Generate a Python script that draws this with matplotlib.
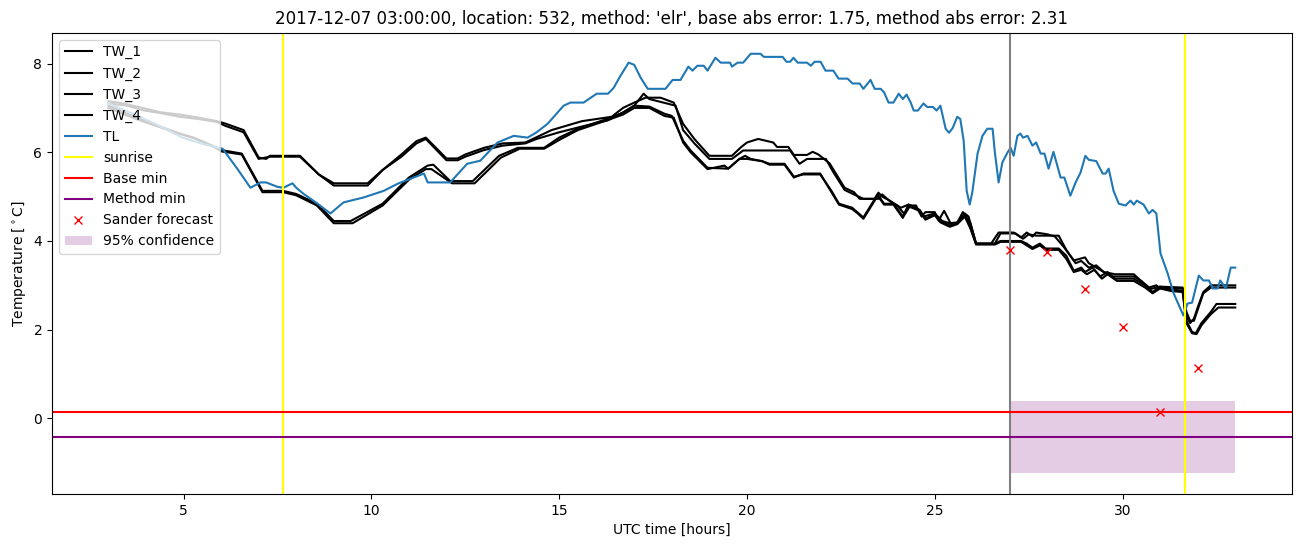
import matplotlib
matplotlib.use("Agg")
import matplotlib.pyplot as plt

# TW series, (hour, temperature) breakpoints
tw1_t = [3.0, 3.4, 3.9, 4.4, 4.9, 5.4, 5.9, 6.1, 6.6, 7.0, 7.2, 7.3, 8.1, 8.6, 9.0, 9.9,
         10.3, 10.8, 11.2, 11.45, 12.0, 12.3, 12.5, 13.0, 13.5, 14.1, 14.8, 15.6, 16.4,
         16.7, 17.0, 17.3, 17.7, 18.05, 18.3, 18.6, 19.0, 19.6, 19.85, 20.0, 20.3, 20.7,
         20.8, 21.1, 21.25, 21.6, 21.75, 21.9, 22.2, 22.6, 22.85, 23.0, 23.4, 23.5, 23.6,
         23.8, 24.0, 24.2, 24.35, 24.5, 24.65, 24.75, 25.0, 25.1, 25.25, 25.45, 25.6, 25.8,
         25.9, 26.1, 26.5, 26.7, 27.1, 27.3, 27.45, 27.6, 27.7, 28.0, 28.2, 28.45, 28.7,
         29.0, 29.1, 29.5, 29.7, 30.3, 30.5, 30.7, 30.9, 31.0, 31.6, 31.7, 31.8, 31.9,
         32.0, 32.15, 32.35, 33.0]
tw1_v = [7.15, 7.1, 7.0, 6.9, 6.85, 6.78, 6.7, 6.65, 6.5, 5.88, 5.85, 5.92, 5.92, 5.5, 5.3, 5.3,
         5.6, 5.95, 6.25, 6.33, 5.86, 5.86, 5.95, 6.1, 6.2, 6.22, 6.5, 6.7, 6.8,
         7.0, 7.12, 7.23, 7.23, 7.12, 6.64, 6.3, 5.92, 5.92, 6.12, 6.22, 6.3, 6.22,
         6.12, 6.12, 5.94, 5.94, 6.01, 5.95, 5.75, 5.2, 5.1, 4.95, 4.95, 5.09, 5.0,
         4.91, 4.8, 4.6, 4.8, 4.8, 4.55, 4.65, 4.65, 4.46, 4.68, 4.35, 4.4, 4.62,
         4.55, 3.94, 3.94, 4.19, 4.19, 4.08, 4.19, 4.1, 4.19, 4.15, 4.1, 3.85, 3.56,
         3.63, 3.5, 3.3, 3.2, 3.2, 3.1, 2.95, 3.0, 2.93, 2.93, 2.3, 2.15, 2.25,
         2.5, 2.85, 3.0, 3.0]

tw2_t = [3.0, 3.5, 3.9, 4.4, 4.9, 5.4, 5.9, 6.1, 6.6, 7.0, 7.3, 8.1, 8.6, 9.0, 9.9, 10.3,
         10.8, 11.2, 11.45, 12.0, 12.3, 12.5, 13.0, 13.5, 14.1, 14.4, 15.0, 15.7, 16.3,
         16.7, 17.0, 17.25, 17.4, 18.1, 18.3, 18.6, 19.0, 19.6, 19.9, 21.15, 21.4, 21.6,
         22.1, 22.3, 22.6, 23.1, 23.5, 23.6, 23.8, 24.1, 24.3, 24.5, 24.7, 25.0, 25.2,
         25.4, 25.6, 25.75, 25.95, 26.1, 26.6, 26.75, 27.15, 27.35, 27.5, 27.7, 28.3,
         28.5, 28.75, 28.9, 29.1, 29.3, 29.5, 29.8, 30.3, 30.55, 30.75, 31.0, 31.6,
         31.7, 31.8, 31.9, 32.0, 32.15, 32.35, 33.0]
tw2_v = [7.1, 7.05, 6.95, 6.88, 6.8, 6.75, 6.68, 6.6, 6.45, 5.85, 5.9, 5.9, 5.5, 5.25, 5.25, 5.6,
         5.9, 6.2, 6.3, 5.82, 5.82, 5.9, 6.05, 6.15, 6.2, 6.3, 6.45, 6.6, 6.72,
         6.9, 7.05, 7.32, 7.2, 7.05, 6.5, 6.2, 5.85, 5.85, 6.04, 6.04, 5.74, 5.85,
         5.85, 5.55, 5.15, 4.95, 4.95, 5.05, 4.9, 4.75, 4.82, 4.75, 4.55, 4.62, 4.45,
         4.4, 4.42, 4.65, 4.4, 3.94, 3.94, 4.17, 4.17, 4.05, 4.15, 4.12, 4.12,
         3.8, 3.5, 3.55, 3.4, 3.45, 3.3, 3.25, 3.25, 3.05, 2.92, 2.97, 2.95,
         2.4, 2.2, 2.2, 2.45, 2.82, 2.95, 2.95]

tw3_t = [3.0, 3.7, 4.25, 4.8, 5.3, 5.9, 6.0, 6.55, 7.1, 7.65, 8.0, 8.55, 9.0, 9.45, 10.3,
         11.0, 11.5, 11.65, 12.1, 12.7, 13.4, 13.9, 14.6, 15.0, 15.5, 16.2, 16.7, 17.0,
         17.4, 17.8, 18.0, 18.3, 18.5, 18.95, 19.5, 19.8, 19.95, 20.1, 20.4, 20.6, 21.0,
         21.25, 21.5, 21.95, 22.25, 22.45, 22.8, 22.95, 23.1, 23.48, 23.65, 23.9, 24.15,
         24.3, 24.6, 24.75, 25.0, 25.15, 25.4, 25.6, 25.8, 25.95, 26.1, 26.6, 26.75, 27.3,
         27.45, 27.6, 27.8, 27.95, 28.3, 28.5, 28.7, 28.9, 29.0, 29.2, 29.4, 29.6, 29.8,
         30.3, 30.6, 30.8, 31.0, 31.3, 31.6, 31.7, 31.85, 31.95, 32.1, 32.35, 32.5, 33.0]
tw3_v = [7.05, 6.8, 6.62, 6.45, 6.32, 6.1, 6.05, 5.97, 5.13, 5.13, 5.06, 4.84, 4.45, 4.45, 4.84,
         5.43, 5.7, 5.72, 5.35, 5.35, 5.92, 6.1, 6.1, 6.33, 6.53, 6.73, 6.89, 7.05,
         7.03, 6.87, 6.82, 6.26, 6.04, 5.65, 5.63, 5.85, 5.92, 5.85, 5.8, 5.74, 5.74,
         5.45, 5.5, 5.5, 5.13, 4.84, 4.75, 4.64, 4.53, 5.05, 4.84, 4.84, 4.55,
         4.82, 4.7, 4.5, 4.6, 4.45, 4.35, 4.4, 4.6, 4.3, 3.94, 3.94, 4.0, 4.0,
         3.94, 3.85, 3.94, 3.83, 3.83, 3.67, 3.33, 3.4, 3.3, 3.4, 3.2, 3.3, 3.15,
         3.15, 3.0, 2.85, 2.97, 2.9, 2.88, 2.2, 1.95, 1.92, 2.15, 2.4, 2.58, 2.58]

tw4_t = [3.0, 3.7, 4.25, 4.8, 5.3, 5.9, 6.0, 6.55, 7.1, 7.65, 8.0, 8.55, 9.0, 9.5, 10.3,
         11.0, 11.45, 11.6, 12.15, 12.75, 13.45, 13.95, 14.6, 15.05, 15.5, 16.2, 16.7,
         17.0, 17.4, 17.8, 18.05, 18.3, 18.5, 18.95, 19.4, 19.5, 19.8, 20.0, 20.4, 20.6,
         21.0, 21.25, 21.5, 21.95, 22.25, 22.45, 22.8, 22.95, 23.1, 23.48, 23.65, 23.9,
         24.15, 24.3, 24.6, 24.75, 25.0, 25.15, 25.4, 25.6, 25.8, 25.95, 26.1, 26.6,
         26.75, 27.3, 27.45, 27.6, 27.8, 27.95, 28.3, 28.5, 28.7, 28.9, 29.05, 29.25,
         29.45, 29.6, 29.85, 30.3, 30.6, 30.8, 31.0, 31.3, 31.6, 31.7, 31.85, 31.97,
         32.1, 32.35, 32.55, 33.0]
tw4_v = [7.0, 6.76, 6.6, 6.44, 6.31, 6.08, 6.02, 5.95, 5.1, 5.1, 5.03, 4.8, 4.4, 4.4, 4.8,
         5.38, 5.62, 5.62, 5.3, 5.3, 5.88, 6.08, 6.08, 6.3, 6.5, 6.7, 6.85, 7.0,
         7.0, 6.82, 6.78, 6.22, 6.0, 5.62, 5.7, 5.63, 5.85, 5.85, 5.8, 5.72, 5.72,
         5.43, 5.52, 5.52, 5.1, 4.82, 4.72, 4.62, 4.5, 5.02, 4.82, 4.82, 4.52,
         4.78, 4.68, 4.48, 4.58, 4.42, 4.32, 4.38, 4.55, 4.28, 3.92, 3.92, 3.98,
         3.98, 3.9, 3.82, 3.9, 3.8, 3.8, 3.6, 3.3, 3.35, 3.25, 3.35, 3.15, 3.25,
         3.1, 3.1, 2.95, 2.82, 2.93, 2.87, 2.85, 2.15, 1.92, 1.9, 2.1, 2.35, 2.5, 2.5]

# TL series
tl_t = [3.0, 3.64, 4.25, 4.97, 5.5, 6.04, 6.43, 6.78, 7.05, 7.2, 7.5, 7.66, 7.9, 8.0, 8.2,
        8.57, 8.91, 9.26, 9.79, 10.33, 10.7, 11.4, 11.5, 12.1, 12.55, 12.9, 13.36, 13.79,
        14.16, 14.4, 14.69, 15.12, 15.3, 15.65, 16.0, 16.3, 16.45, 16.63, 16.85, 17.0, 17.17,
        17.36, 17.83, 18.02, 18.23, 18.44, 18.55, 18.68, 18.85, 18.95, 19.16, 19.3, 19.55,
        19.6, 19.75, 19.9, 20.1, 20.36, 20.45, 20.95, 21.05, 21.15, 21.24, 21.35, 21.6,
        21.7, 21.8, 21.96, 22.09, 22.3, 22.44, 22.68, 22.81, 23.0, 23.1, 23.29, 23.4, 23.56,
        23.65, 23.77, 23.9, 24.04, 24.15, 24.25, 24.36, 24.44, 24.55, 24.7, 24.8, 24.95,
        25.05, 25.15, 25.29, 25.38, 25.48, 25.6, 25.68, 25.77, 25.85, 25.93, 26.0, 26.14,
        26.27, 26.4, 26.54, 26.6, 26.7, 26.8, 26.94, 27.02, 27.1, 27.2, 27.28, 27.35, 27.47,
        27.6, 27.7, 27.82, 27.92, 28.03, 28.16, 28.35, 28.45, 28.61, 28.75, 28.88, 29.01,
        29.1, 29.3, 29.47, 29.55, 29.63, 29.76, 29.9, 30.08, 30.21, 30.3, 30.38, 30.56,
        30.7, 30.8, 30.9, 31.01, 31.2, 31.36, 31.5, 31.62, 31.73, 31.85, 32.03, 32.15, 32.3,
        32.4, 32.53, 32.6, 32.75, 32.88, 33.0]
tl_v = [7.1, 6.87, 6.64, 6.33, 6.19, 6.08, 5.63, 5.2, 5.32, 5.32, 5.22, 5.2, 5.3, 5.2, 5.06,
        4.84, 4.62, 4.87, 4.98, 5.13, 5.29, 5.52, 5.32, 5.32, 5.74, 5.81, 6.22, 6.37,
        6.33, 6.45, 6.64, 7.05, 7.12, 7.12, 7.32, 7.32, 7.45, 7.72, 8.02, 7.97, 7.68,
        7.43, 7.43, 7.63, 7.63, 7.93, 7.84, 7.95, 7.95, 7.84, 8.13, 8.02, 8.02,
        7.93, 8.02, 8.02, 8.22, 8.22, 8.15, 8.15, 8.04, 8.04, 8.13, 8.02, 8.02,
        7.95, 8.04, 8.04, 7.84, 7.84, 7.66, 7.66, 7.55, 7.55, 7.43, 7.63, 7.43, 7.43,
        7.35, 7.12, 7.12, 7.32, 7.2, 7.3, 7.12, 6.94, 6.94, 7.1, 7.02, 7.02,
        6.94, 7.05, 6.53, 6.44, 6.55, 6.8, 6.75, 6.26, 5.13, 4.82, 5.1, 5.97,
        6.37, 6.53, 6.53, 6.0, 5.32, 5.77, 6.0, 6.1, 5.92, 6.37, 6.42, 6.33, 6.37,
        6.15, 6.22, 5.97, 5.97, 5.63, 6.01, 5.43, 5.43, 5.02, 5.32, 5.54, 5.92,
        5.83, 5.8, 5.52, 5.52, 5.63, 5.13, 4.84, 4.8, 4.91, 4.82, 4.91, 4.82,
        4.62, 4.7, 4.62, 3.72, 3.27, 2.82, 2.55, 2.32, 2.59, 2.61, 3.22, 3.11, 3.11,
        2.93, 2.93, 3.11, 2.93, 3.4, 3.4]

sunrise = [7.66, 31.65]
forecast_time = 27.0
base_min = 0.15
method_min = -0.42
sander_t = [27, 28, 29, 30, 31, 32]
sander_v = [3.8, 3.75, 2.92, 2.07, 0.15, 1.13]
conf_t = [27, 33]
conf_low = -1.23
conf_high = 0.4

fig, ax = plt.subplots(figsize=(13.02, 5.47), dpi=100)
fig.subplots_adjust(left=0.04, right=0.992, top=0.94, bottom=0.097)

for i, (t, v) in enumerate([(tw1_t, tw1_v), (tw2_t, tw2_v), (tw3_t, tw3_v), (tw4_t, tw4_v)]):
    ax.plot(t, v, color='black', label='TW_%d' % (i + 1))
ax.plot(tl_t, tl_v, color='C0', label='TL')

ax.axvline(sunrise[0], color='yellow', label='sunrise')
ax.axvline(sunrise[1], color='yellow')
ax.axvline(forecast_time, color='gray')
ax.axhline(base_min, color='red', label='Base min')
ax.axhline(method_min, color='purple', label='Method min')
ax.plot(sander_t, sander_v, 'x', color='red', label='Sander forecast')
ax.fill_between(conf_t, conf_low, conf_high, color='purple', alpha=0.2, linewidth=0,
                label='95% confidence')

ax.set_title("2017-12-07 03:00:00, location: 532, method: 'elr', base abs error: 1.75, "
             "method abs error: 2.31")
ax.set_xlabel('UTC time [hours]')
ax.set_ylabel('Temperature [$^\\circ$C]')
ax.legend(loc='upper left')

plt.savefig('out.png')
